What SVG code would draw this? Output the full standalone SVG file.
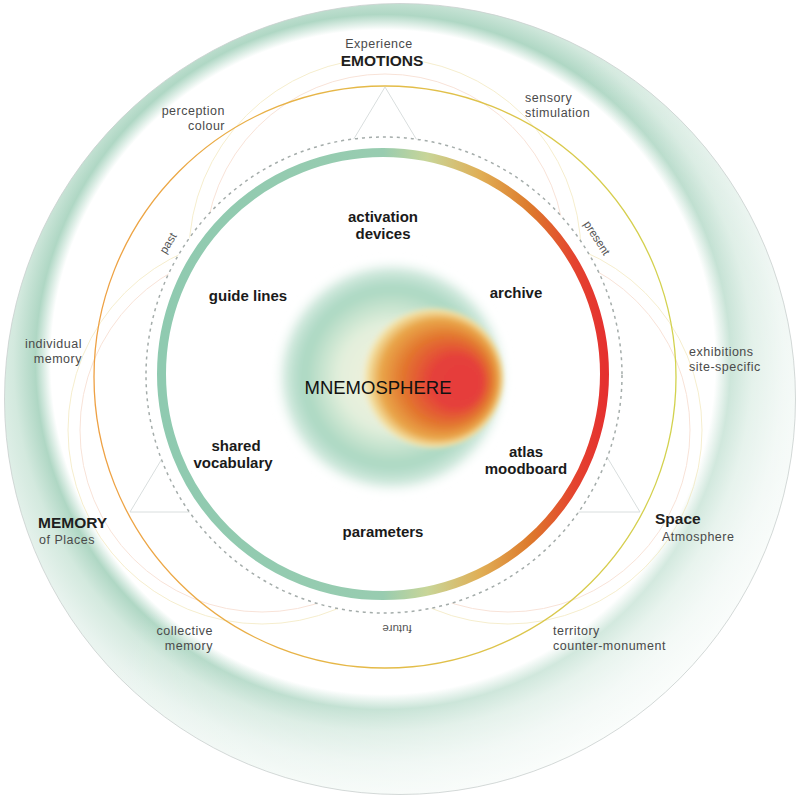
<svg xmlns="http://www.w3.org/2000/svg" width="801" height="797" viewBox="0 0 801 797">
<defs>
  <radialGradient id="bg" gradientUnits="userSpaceOnUse" cx="383" cy="362" r="440">
    <stop offset="0" stop-color="#ffffff"/>
    <stop offset="0.755" stop-color="#ffffff"/>
    <stop offset="0.79" stop-color="#afd7c4"/>
    <stop offset="0.84" stop-color="#d3e9de"/>
    <stop offset="0.91" stop-color="#e8f3ee"/>
    <stop offset="1" stop-color="#f6fbf8"/>
  </radialGradient>
  <linearGradient id="fadeG" x1="0" y1="0.2" x2="1" y2="1">
    <stop offset="0" stop-color="#ffffff" stop-opacity="0"/>
    <stop offset="0.38" stop-color="#ffffff" stop-opacity="0"/>
    <stop offset="1" stop-color="#ffffff" stop-opacity="0.75"/>
  </linearGradient>
  <linearGradient id="ringG" gradientUnits="userSpaceOnUse" x1="161" y1="0" x2="605" y2="0">
    <stop offset="0" stop-color="#8fcab0"/>
    <stop offset="0.5" stop-color="#98ccb0"/>
    <stop offset="0.6" stop-color="#c8d598"/>
    <stop offset="0.72" stop-color="#e0ae55"/>
    <stop offset="0.83" stop-color="#dd7a2c"/>
    <stop offset="0.93" stop-color="#e4442f"/>
    <stop offset="1" stop-color="#e5312f"/>
  </linearGradient>
  <linearGradient id="orbitG" gradientUnits="userSpaceOnUse" x1="94" y1="0" x2="676" y2="0">
    <stop offset="0" stop-color="#eea043"/>
    <stop offset="0.5" stop-color="#e4bb48"/>
    <stop offset="1" stop-color="#d2d24e"/>
  </linearGradient>
  <radialGradient id="haloG" gradientUnits="userSpaceOnUse" cx="392" cy="377" r="118">
    <stop offset="0" stop-color="#f4f3dc"/>
    <stop offset="0.45" stop-color="#e3efdc"/>
    <stop offset="0.75" stop-color="#a9d7c1"/>
    <stop offset="0.9" stop-color="#cfe8dc"/>
    <stop offset="1" stop-color="#ffffff" stop-opacity="0"/>
  </radialGradient>
  <radialGradient id="coreG" gradientUnits="userSpaceOnUse" cx="433" cy="378" r="72" fx="470" fy="384">
    <stop offset="0" stop-color="#e63b3a"/>
    <stop offset="0.35" stop-color="#e5403a"/>
    <stop offset="0.62" stop-color="#e2762e"/>
    <stop offset="0.82" stop-color="#e9a64a"/>
    <stop offset="0.93" stop-color="#f2dc9c"/>
    <stop offset="1" stop-color="#f6eac0" stop-opacity="0"/>
  </radialGradient>
  <filter id="soft" x="-30%" y="-30%" width="160%" height="160%">
    <feGaussianBlur stdDeviation="4"/>
  </filter>
  <filter id="soft2" x="-30%" y="-30%" width="160%" height="160%">
    <feGaussianBlur stdDeviation="2"/>
  </filter>
  <clipPath id="outsideDash">
    <path clip-rule="evenodd" d="M0 0H801V797H0Z M146 375a238 238 0 1 0 476 0a238 238 0 1 0 -476 0Z"/>
  </clipPath>
  <style>
    .lbl { font-family: "Liberation Sans", Arial, sans-serif; font-size: 12.5px; letter-spacing: 0.5px; fill: #4a4a4a; }
    .big { font-family: "Liberation Sans", Arial, sans-serif; font-size: 15.5px; font-weight: bold; fill: #1e1e1e; }
    .in { font-family: "Liberation Sans", Arial, sans-serif; font-size: 15px; font-weight: bold; fill: #1a1a1a; text-anchor: middle; }
    .time { font-family: "Liberation Sans", Arial, sans-serif; font-size: 11.5px; fill: #555; text-anchor: middle; }
    .faint { fill: none; stroke-width: 1; }
  </style>
</defs>

<!-- background disk -->
<g id="background">
  <circle cx="400" cy="399" r="395.5" fill="url(#bg)"/>
  <circle cx="400" cy="399" r="395.5" fill="url(#fadeG)" stroke="#c9cfce" stroke-width="0.8"/>
</g>

<!-- connectors / structure lines -->
<g id="connectors">
  <g clip-path="url(#outsideDash)">
    <g opacity="0.5">
      <circle class="faint" cx="385" cy="254" r="180" stroke="#f1c6b0"/>
      <circle class="faint" cx="385" cy="254" r="196" stroke="#ecdc9c"/>
      <circle class="faint" cx="262" cy="430" r="182" stroke="#f1c6b0"/>
      <circle class="faint" cx="262" cy="430" r="194" stroke="#ecdc9c"/>
      <circle class="faint" cx="508" cy="430" r="182" stroke="#f1c6b0"/>
      <circle class="faint" cx="508" cy="430" r="194" stroke="#ecdc9c"/>
    </g>
    <polygon points="385,87 130,512 640,512" fill="none" stroke="#d9dede" stroke-width="1"/>
  </g>
  <circle cx="385" cy="377" r="291" fill="none" stroke="url(#orbitG)" stroke-width="1.3"/>
  <circle cx="384" cy="375" r="238" fill="none" stroke="#a4acaa" stroke-width="1.5" stroke-dasharray="3 4"/>
  <circle cx="383" cy="374" r="221.5" fill="none" stroke="url(#ringG)" stroke-width="9"/>
</g>

<!-- centre -->
<g id="mnemosphere">
  <circle cx="392" cy="377" r="116" fill="url(#haloG)" filter="url(#soft)"/>
  <circle cx="433" cy="378" r="72" fill="url(#coreG)" filter="url(#soft2)"/>
  <text x="378" y="394" style="font-family:'Liberation Sans',Arial,sans-serif;font-size:18.5px;fill:#111;text-anchor:middle">MNEMOSPHERE</text>
</g>

<!-- time labels -->
<g id="time-labels">
  <text class="time" transform="translate(168,243) rotate(-59)" y="4">past</text>
  <text class="time" transform="translate(597,238) rotate(57)" y="4">present</text>
  <text class="time" transform="translate(397,629) rotate(180)" y="4">future</text>
</g>

<!-- outer nodes -->
<g id="emotions">
  <text class="lbl" x="379" y="48" text-anchor="middle">Experience</text>
  <text class="big" x="382" y="66" text-anchor="middle">EMOTIONS</text>
</g>
<g id="perception">
  <text class="lbl" x="225" y="115" text-anchor="end">perception</text>
  <text class="lbl" x="225" y="130" text-anchor="end">colour</text>
</g>
<g id="sensory">
  <text class="lbl" x="525" y="102">sensory</text>
  <text class="lbl" x="525" y="117">stimulation</text>
</g>
<g id="individual">
  <text class="lbl" x="82" y="348" text-anchor="end">individual</text>
  <text class="lbl" x="82" y="363" text-anchor="end">memory</text>
</g>
<g id="exhibitions">
  <text class="lbl" x="689" y="356">exhibitions</text>
  <text class="lbl" x="689" y="371">site-specific</text>
</g>
<g id="memory">
  <text class="big" x="38" y="528">MEMORY</text>
  <text class="lbl" x="39" y="544">of Places</text>
</g>
<g id="space">
  <text class="big" x="655" y="524">Space</text>
  <text class="lbl" x="662" y="541">Atmosphere</text>
</g>
<g id="collective">
  <text class="lbl" x="213" y="635" text-anchor="end">collective</text>
  <text class="lbl" x="213" y="650" text-anchor="end">memory</text>
</g>
<g id="territory">
  <text class="lbl" x="553" y="635">territory</text>
  <text class="lbl" x="553" y="650">counter-monument</text>
</g>

<!-- inner nodes -->
<g id="activation">
  <text class="in" x="383" y="222">activation</text>
  <text class="in" x="383" y="239">devices</text>
</g>
<g id="guide-lines">
  <text class="in" x="248" y="301">guide lines</text>
</g>
<g id="archive">
  <text class="in" x="516" y="298">archive</text>
</g>
<g id="shared-vocabulary">
  <text class="in" x="236" y="451">shared</text>
  <text class="in" x="233" y="468">vocabulary</text>
</g>
<g id="atlas-moodboard">
  <text class="in" x="526" y="457">atlas</text>
  <text class="in" x="526" y="474">moodboard</text>
</g>
<g id="parameters">
  <text class="in" x="383" y="537">parameters</text>
</g>
</svg>
